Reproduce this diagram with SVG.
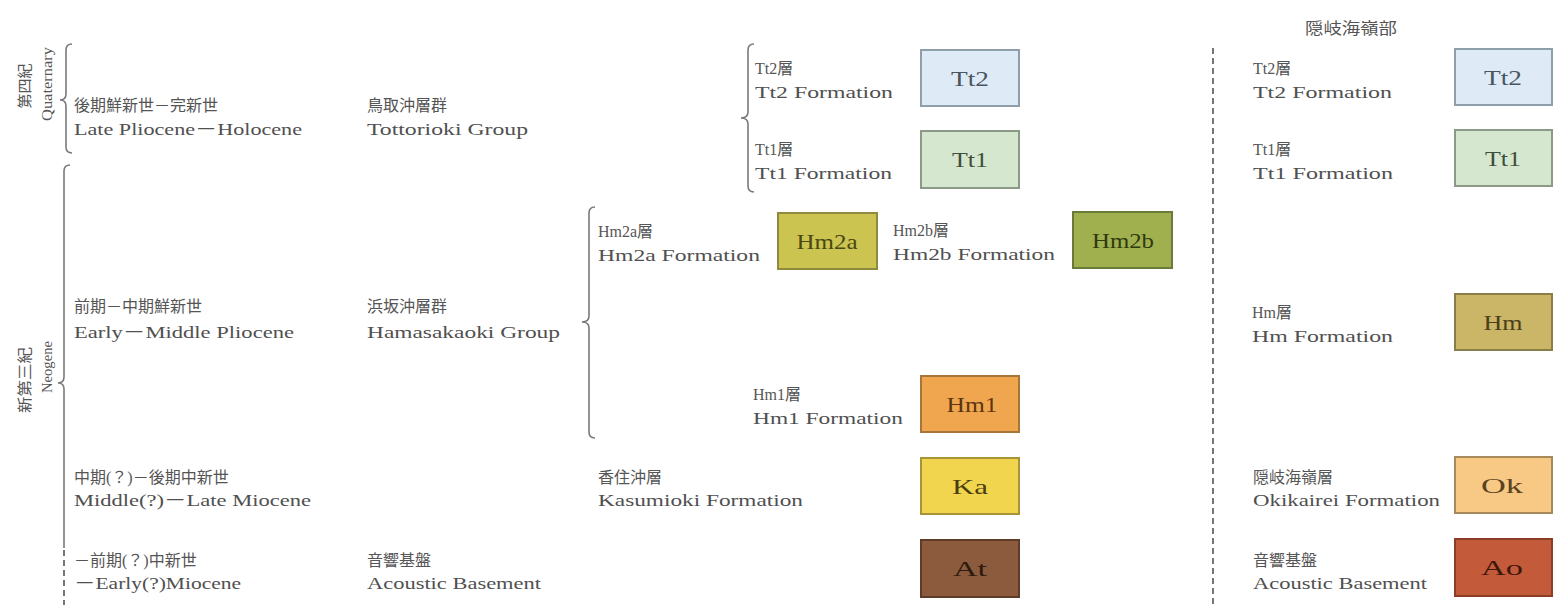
<svg xmlns="http://www.w3.org/2000/svg" width="1559" height="605" viewBox="0 0 1559 605">
<style>
  .jp { font-family: "Liberation Serif", "Noto Sans CJK JP", serif; font-size: 16px; fill: #555; }
  .en { font-family: "Liberation Serif", "Noto Sans CJK JP", serif; font-size: 17px; fill: #505050; }
  .vt { font-family: "Liberation Serif", "Noto Sans CJK JP", serif; font-size: 15px; fill: #555; }
  .bx { stroke-width: 2; }
  .bt { font-family: "Liberation Serif", serif; font-size: 22px; text-anchor: middle; }
  .br { fill: none; stroke: #7a7a7a; stroke-width: 1.6; }
  .dash { fill: none; stroke: #555; stroke-width: 1.6; stroke-dasharray: 6 4; }
</style>
<rect width="1559" height="605" fill="#ffffff"/>

<g id="connectors">
  <path class="br" d="M72,44 Q66,44 66,50 L66,94 Q66,100 60,100 Q66,100 66,106 L66,147 Q66,153 72,153"/>
  <path class="br" d="M70,165 Q64,165 64,171 L64,377 Q64,383 58,383 Q64,383 64,389 L64,548"/>
  <path class="dash" d="M64,550 L64,605"/>
  <path class="br" d="M754,44 Q748,44 748,50 L748,112 Q748,118 741,118 Q748,118 748,124 L748,186 Q748,192 754,192"/>
  <path class="br" d="M595,207 Q589,207 589,213 L589,316 Q589,322 582,322 Q589,322 589,328 L589,432 Q589,438 595,438"/>
  <path class="dash" d="M1213,48 L1213,605"/>
</g>

<g id="period-quaternary">
  <text class="vt" transform="translate(30,86) rotate(-90)" text-anchor="middle">第四紀</text>
  <text class="vt" transform="translate(52,84) rotate(-90)" text-anchor="middle" textLength="74" lengthAdjust="spacingAndGlyphs">Quaternary</text>
</g>
<g id="period-neogene">
  <text class="vt" transform="translate(30,380) rotate(-90)" text-anchor="middle" textLength="66" lengthAdjust="spacingAndGlyphs">新第三紀</text>
  <text class="vt" transform="translate(52,367) rotate(-90)" text-anchor="middle" textLength="52" lengthAdjust="spacingAndGlyphs">Neogene</text>
</g>

<g id="age-late-pliocene">
  <text class="jp" x="74" y="111">後期鮮新世－完新世</text>
  <text class="en" x="74" y="135" textLength="228" lengthAdjust="spacingAndGlyphs">Late Pliocene－Holocene</text>
</g>
<g id="age-early-middle-pliocene">
  <text class="jp" x="74" y="312">前期－中期鮮新世</text>
  <text class="en" x="74" y="338" textLength="220" lengthAdjust="spacingAndGlyphs">Early－Middle Pliocene</text>
</g>
<g id="age-middle-late-miocene">
  <text class="jp" x="74" y="483">中期(？)－後期中新世</text>
  <text class="en" x="74" y="506" textLength="237" lengthAdjust="spacingAndGlyphs">Middle(?)－Late Miocene</text>
</g>
<g id="age-early-miocene">
  <text class="jp" x="74" y="566">－前期(？)中新世</text>
  <text class="en" x="74" y="589" textLength="167" lengthAdjust="spacingAndGlyphs">－Early(?)Miocene</text>
</g>

<g id="group-tottorioki">
  <text class="jp" x="367" y="111">鳥取沖層群</text>
  <text class="en" x="367" y="135" textLength="161" lengthAdjust="spacingAndGlyphs">Tottorioki Group</text>
</g>
<g id="group-hamasakaoki">
  <text class="jp" x="367" y="312">浜坂沖層群</text>
  <text class="en" x="367" y="338" textLength="193" lengthAdjust="spacingAndGlyphs">Hamasakaoki Group</text>
</g>
<g id="basement-label">
  <text class="jp" x="367" y="566">音響基盤</text>
  <text class="en" x="367" y="589" textLength="174" lengthAdjust="spacingAndGlyphs">Acoustic Basement</text>
</g>
<g id="kasumioki-label">
  <text class="jp" x="598" y="483">香住沖層</text>
  <text class="en" x="598" y="506" textLength="205" lengthAdjust="spacingAndGlyphs">Kasumioki Formation</text>
</g>

<g id="tt2">
  <text class="jp" x="755" y="74">Tt2層</text>
  <text class="en" x="755" y="98" textLength="138" lengthAdjust="spacingAndGlyphs">Tt2 Formation</text>
  <rect class="bx" x="921" y="50" width="98" height="56" fill="#deebf7" stroke="#8e9eab"/>
  <text class="bt" x="970" y="86" fill="#4a5560" textLength="38" lengthAdjust="spacingAndGlyphs">Tt2</text>
</g>
<g id="tt1">
  <text class="jp" x="755" y="155">Tt1層</text>
  <text class="en" x="755" y="179" textLength="137" lengthAdjust="spacingAndGlyphs">Tt1 Formation</text>
  <rect class="bx" x="921" y="131" width="98" height="57" fill="#d5e8cf" stroke="#8b9a86"/>
  <text class="bt" x="970" y="167" fill="#3f4d3c" textLength="36" lengthAdjust="spacingAndGlyphs">Tt1</text>
</g>
<g id="hm2a">
  <text class="jp" x="598" y="237">Hm2a層</text>
  <text class="en" x="598" y="261" textLength="162" lengthAdjust="spacingAndGlyphs">Hm2a Formation</text>
  <rect class="bx" x="778" y="213" width="99" height="56" fill="#cbc450" stroke="#8f8a3c"/>
  <text class="bt" x="827" y="249" fill="#4a4712" textLength="61" lengthAdjust="spacingAndGlyphs">Hm2a</text>
</g>
<g id="hm2b">
  <text class="jp" x="893" y="236">Hm2b層</text>
  <text class="en" x="893" y="260" textLength="162" lengthAdjust="spacingAndGlyphs">Hm2b Formation</text>
  <rect class="bx" x="1073" y="212" width="99" height="56" fill="#a0b04e" stroke="#6a7a38"/>
  <text class="bt" x="1123" y="248" fill="#2f3a10" textLength="62" lengthAdjust="spacingAndGlyphs">Hm2b</text>
</g>
<g id="hm1">
  <text class="jp" x="753" y="400">Hm1層</text>
  <text class="en" x="753" y="424" textLength="150" lengthAdjust="spacingAndGlyphs">Hm1 Formation</text>
  <rect class="bx" x="921" y="376" width="98" height="56" fill="#f0a64e" stroke="#a87538"/>
  <text class="bt" x="972" y="412" fill="#5a3510" textLength="51" lengthAdjust="spacingAndGlyphs">Hm1</text>
</g>
<g id="ka">
  <rect class="bx" x="921" y="458" width="98" height="56" fill="#f2d54f" stroke="#a89438"/>
  <text class="bt" x="970" y="494" fill="#4a3e10" textLength="36" lengthAdjust="spacingAndGlyphs">Ka</text>
</g>
<g id="at">
  <rect class="bx" x="921" y="540" width="98" height="57" fill="#8c5b3d" stroke="#5e3c28"/>
  <text class="bt" x="970" y="576" fill="#2e1a0e" textLength="34" lengthAdjust="spacingAndGlyphs">At</text>
</g>

<g id="oki-header">
  <text class="jp" x="1351" y="34" text-anchor="middle" textLength="92" lengthAdjust="spacingAndGlyphs">隠岐海嶺部</text>
</g>
<g id="oki-tt2">
  <text class="jp" x="1253" y="74">Tt2層</text>
  <text class="en" x="1253" y="98" textLength="139" lengthAdjust="spacingAndGlyphs">Tt2 Formation</text>
  <rect class="bx" x="1455" y="49" width="97" height="56" fill="#deebf7" stroke="#8e9eab"/>
  <text class="bt" x="1503" y="85" fill="#4a5560" textLength="38" lengthAdjust="spacingAndGlyphs">Tt2</text>
</g>
<g id="oki-tt1">
  <text class="jp" x="1253" y="155">Tt1層</text>
  <text class="en" x="1253" y="179" textLength="140" lengthAdjust="spacingAndGlyphs">Tt1 Formation</text>
  <rect class="bx" x="1455" y="130" width="97" height="56" fill="#d5e8cf" stroke="#8b9a86"/>
  <text class="bt" x="1503" y="166" fill="#3f4d3c" textLength="36" lengthAdjust="spacingAndGlyphs">Tt1</text>
</g>
<g id="oki-hm">
  <text class="jp" x="1252" y="318">Hm層</text>
  <text class="en" x="1252" y="342" textLength="141" lengthAdjust="spacingAndGlyphs">Hm Formation</text>
  <rect class="bx" x="1455" y="294" width="97" height="56" fill="#cbb567" stroke="#8b7d48"/>
  <text class="bt" x="1503" y="330" fill="#4a3f18" textLength="39" lengthAdjust="spacingAndGlyphs">Hm</text>
</g>
<g id="oki-ok">
  <text class="jp" x="1253" y="483">隠岐海嶺層</text>
  <text class="en" x="1253" y="506" textLength="187" lengthAdjust="spacingAndGlyphs">Okikairei Formation</text>
  <rect class="bx" x="1455" y="457" width="97" height="56" fill="#f7c985" stroke="#a8895a"/>
  <text class="bt" x="1502" y="493" fill="#5a4220" textLength="42" lengthAdjust="spacingAndGlyphs">Ok</text>
</g>
<g id="oki-ao">
  <text class="jp" x="1253" y="566">音響基盤</text>
  <text class="en" x="1253" y="589" textLength="174" lengthAdjust="spacingAndGlyphs">Acoustic Basement</text>
  <rect class="bx" x="1455" y="539" width="97" height="57" fill="#c35a3a" stroke="#8a3e26"/>
  <text class="bt" x="1502" y="575" fill="#3e160a" textLength="42" lengthAdjust="spacingAndGlyphs">Ao</text>
</g>
</svg>
